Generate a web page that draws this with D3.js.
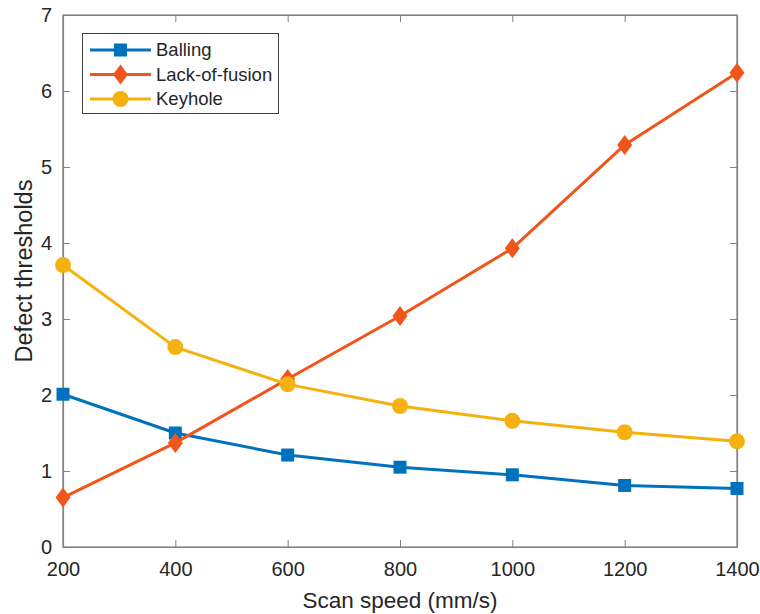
<!DOCTYPE html>
<html>
<head>
<meta charset="utf-8">
<script src="https://cdn.jsdelivr.net/npm/d3@7"></script>
<style>
body { margin: 0; background: #fff; }
svg { display: block; }
text { font-family: "Liberation Sans", Arial, sans-serif; fill: #262626; }
</style>
</head>
<body>
<svg id="chart" width="760" height="614"></svg>
<script>
const scanSpeed = [200, 400, 600, 800, 1000, 1200, 1400];
const balling = [2.01, 1.50, 1.21, 1.05, 0.95, 0.81, 0.77];
const lackOfFusion = [0.65, 1.37, 2.21, 3.04, 3.93, 5.29, 6.24];
const keyhole = [3.71, 2.63, 2.14, 1.855, 1.66, 1.51, 1.39];
const xTicks = [200, 400, 600, 800, 1000, 1200, 1400];
const yTicks = [0, 1, 2, 3, 4, 5, 6, 7];
const seriesNames = ["Balling", "Lack-of-fusion", "Keyhole"];
const seriesColors = ["#0072BD", "#F0561A", "#F5B10F"];
const seriesShapes = ["square", "diamond", "circle"];
const xLabel = "Scan speed (mm/s)";
const yLabel = "Defect thresholds";

const series = [balling, lackOfFusion, keyhole].map((vals, i) => ({
  name: seriesNames[i], color: seriesColors[i], shape: seriesShapes[i],
  points: vals.map((v, j) => ({ x: scanSpeed[j], y: v }))
}));

const svg = d3.select("#chart");
const L = 63, R = 737, T = 15, B = 547;
const x = d3.scaleLinear().domain([200, 1400]).range([L, R]);
const y = d3.scaleLinear().domain([0, 7]).range([B, T]);

const axisColor = "#262626";
const tickLen = 7;

// frame
svg.append("rect").attr("x", L).attr("y", T).attr("width", R - L).attr("height", B - T)
  .attr("fill", "none").attr("stroke", "#808080").attr("stroke-width", 1.2);

const xAxis = svg.append("g").attr("transform", `translate(0,${B})`)
  .call(d3.axisBottom(x).tickValues(xTicks).tickSize(-tickLen).tickSizeOuter(0).tickPadding(15).tickFormat(d3.format("d")));
const yAxis = svg.append("g").attr("transform", `translate(${L},0)`)
  .call(d3.axisLeft(y).tickValues(yTicks).tickSize(-tickLen).tickSizeOuter(0).tickPadding(11).tickFormat(d3.format("d")));
const xTop = svg.append("g").attr("transform", `translate(0,${T})`)
  .call(d3.axisTop(x).tickValues(xTicks).tickSize(-tickLen).tickSizeOuter(0).tickFormat(""));
const yRight = svg.append("g").attr("transform", `translate(${R},0)`)
  .call(d3.axisRight(y).tickValues(yTicks).tickSize(-tickLen).tickSizeOuter(0).tickFormat(""));
[xAxis, yAxis, xTop, yRight].forEach(g => {
  g.select(".domain").attr("stroke", "#808080").attr("stroke-width", 1.2);
  g.selectAll(".tick line").attr("stroke", "#808080").attr("stroke-width", 1);
  g.selectAll(".tick text").style("font-size", "20px").style("font-family", "Liberation Sans, Arial, sans-serif").attr("fill", axisColor);
});

svg.append("text").attr("x", (L + R) / 2).attr("y", 608).attr("text-anchor", "middle")
  .style("font-size", "22.5px").text(xLabel);
svg.append("text").attr("transform", `translate(32,${(T + B) / 2 - 10}) rotate(-90)`).attr("text-anchor", "middle")
  .style("font-size", "23.5px").text(yLabel);

function drawMarker(g, shape, cx, cy, color) {
  if (shape === "square") {
    g.append("rect").attr("x", cx - 6.5).attr("y", cy - 6.5).attr("width", 13).attr("height", 13).attr("fill", color);
  } else if (shape === "diamond") {
    g.append("path").attr("d", `M${cx},${cy - 10}L${cx + 7.5},${cy}L${cx},${cy + 10}L${cx - 7.5},${cy}Z`).attr("fill", color);
  } else {
    g.append("circle").attr("cx", cx).attr("cy", cy).attr("r", 8).attr("fill", color);
  }
}

const line = d3.line().x(d => x(d.x)).y(d => y(d.y));
const plot = svg.append("g");
series.forEach(s => {
  plot.append("path").datum(s.points).attr("d", line).attr("fill", "none")
    .attr("stroke", s.color).attr("stroke-width", 3).attr("stroke-linejoin", "round");
  s.points.forEach(p => drawMarker(plot, s.shape, x(p.x), y(p.y), s.color));
});

const lg = svg.append("g");
lg.append("rect").attr("x", 82.5).attr("y", 33.5).attr("width", 196).attr("height", 80)
  .attr("fill", "#fff").attr("stroke", "#404040").attr("stroke-width", 1);
series.forEach((s, i) => {
  const ly = 50 + i * 24.5;
  lg.append("line").attr("x1", 90).attr("x2", 151).attr("y1", ly).attr("y2", ly)
    .attr("stroke", s.color).attr("stroke-width", 3);
  drawMarker(lg, s.shape, 120.5, ly, s.color);
  lg.append("text").attr("x", 156).attr("y", ly).attr("dy", "0.35em")
    .style("font-size", "18.5px").text(s.name);
});
</script>
</body>
</html>
